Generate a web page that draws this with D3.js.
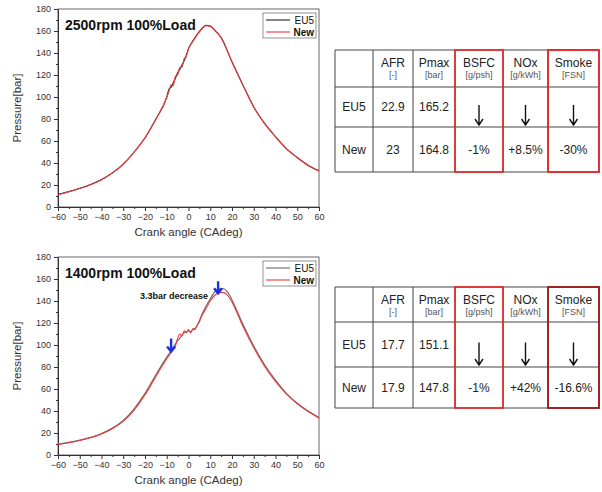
<!DOCTYPE html>
<html>
<head>
<meta charset="utf-8">
<script src="https://cdn.jsdelivr.net/npm/d3@7"></script>
<style>
  body { margin: 0; background: #fff; }
  text { font-family: "Liberation Sans", Arial, sans-serif; }
</style>
</head>
<body>
<script>
// pressure traces, 2500rpm 100% load
let topAngles = [-60,-55,-50,-45,-40,-35,-30,-25,-20,-15,-10,-9,-8,-7,-6,-5,-4,-3,-2,-1,0,2,4,6,8,10,12,15,20,25,30,35,40,45,50,55,60];
let topEU5 = [11.5,14,17,20.5,25,31,39,50,63,80,100,107,109,113,117,122,125,129,133,138,144,151,157,162,165.2,164.5,161,154,132,111,91,76,64,53,45,38,33];
let topNew = [11.3,13.8,16.8,20.3,24.8,30.8,38.8,49.8,62.8,79.8,99.5,105,111,110,119,120,127,127,135,137,143.5,150.5,156.5,161.5,164.8,164.2,160.8,153.8,131.8,110.8,90.8,75.8,63.8,52.8,44.8,37.8,32.8];

// pressure traces, 1400rpm 100% load
let botAngles = [-60,-55,-50,-45,-40,-35,-30,-25,-20,-15,-10,-8,-6,-5,-4,-3,-2,-1,0,1,2,3,4,5,6,8,10,12,14,16,18,20,25,30,35,40,45,50,55,60];
let botEU5 = [10,11.5,13.5,16,19.5,24.5,31.5,42,56,73,89,95,101,104,106,109,111,112,113,112,114,115,118,122,127,135,142,148,151,151.1,148,141,119,99,82,68,56,47,40,34];
let botNew = [9.6,11.2,13.2,15.6,19,23.8,30.6,40.8,54.5,71.5,87.5,93.5,99.5,106,110,108,113,111,114,111,115,114,118,121,126,133,140,145,147.5,147.8,145,139,117,97.5,80.5,67,55.5,46.5,39.5,33.5];

// annotation arrows on the 1400rpm chart: [angle, from pressure, to pressure]
let arrowMarks = [[-8, 106, 94], [13.6, 158, 147]];

let seriesNames = ["EU5", "New"];
let topColors = ["#222222", "#f03a3a"];
let botColors = ["#666666", "#f03a3a"];

// table content
let colNames = ["", "AFR", "Pmax", "BSFC", "NOx", "Smoke"];
let colUnits = ["", "[-]", "[bar]", "[g/psh]", "[g/kWh]", "[FSN]"];
let topRows = [["EU5", "22.9", "165.2", "", "", ""], ["New", "23", "164.8", "-1%", "+8.5%", "-30%"]];
let botRows = [["EU5", "17.7", "151.1", "", "", ""], ["New", "17.9", "147.8", "-1%", "+42%", "-16.6%"]];

let svg = d3.select("body").append("svg")
  .attr("width", 602)
  .attr("height", 492);

let drawChart = function(top, title, angles, eu5, nw, colors, arrows) {
  let left = 58, right = 319, bottom = top + 198;
  let x = d3.scaleLinear().domain([-60, 60]).range([left, right]);
  let y = d3.scaleLinear().domain([0, 180]).range([bottom, top]);
  let g = svg.append("g");

  // frame
  g.append("rect")
   .attr("x", left).attr("y", top)
   .attr("width", right - left).attr("height", bottom - top)
   .attr("fill", "none").attr("stroke", "#666").attr("stroke-width", 1);

  // minor ticks
  g.append("g").attr("transform", `translate(0,${bottom})`)
   .call(d3.axisBottom(x).tickValues(d3.range(-55, 60, 10)).tickSize(2).tickFormat(""))
   .call(a => a.select(".domain").remove());
  g.append("g").attr("transform", `translate(${left},0)`)
   .call(d3.axisLeft(y).tickValues(d3.range(10, 180, 20)).tickSize(2).tickFormat(""))
   .call(a => a.select(".domain").remove());

  // major ticks
  let xa = g.append("g").attr("transform", `translate(0,${bottom})`)
   .call(d3.axisBottom(x).tickValues(d3.range(-60, 61, 10)).tickSize(4).tickPadding(3).tickSizeOuter(0));
  let ya = g.append("g").attr("transform", `translate(${left},0)`)
   .call(d3.axisLeft(y).tickValues(d3.range(0, 181, 20)).tickSize(4).tickPadding(3).tickSizeOuter(0));
  [xa, ya].forEach(a => {
    a.selectAll("text").attr("font-size", 9).attr("fill", "#333")
     .attr("font-family", "Liberation Sans, Arial, sans-serif");
    a.select(".domain").attr("stroke", "#333");
  });
  g.selectAll(".tick line").attr("stroke", "#333");

  g.append("text")
   .attr("x", (left + right) / 2).attr("y", bottom + 29)
   .attr("text-anchor", "middle").attr("font-size", 11.5).attr("fill", "#333")
   .text("Crank angle (CAdeg)");
  g.append("text")
   .attr("transform", `translate(21,${(top + bottom) / 2}) rotate(-90)`)
   .attr("text-anchor", "middle").attr("font-size", 11.5).attr("fill", "#333")
   .text("Pressure[bar]");

  // curves
  let line = d3.line()
    .x((d, i) => x(angles[i]))
    .y(d => y(d))
    .curve(d3.curveMonotoneX);
  [eu5, nw].forEach((vals, k) => {
    g.append("path")
     .datum(vals)
     .attr("fill", "none")
     .attr("stroke", colors[k])
     .attr("stroke-width", 1.1)
     .attr("d", line);
  });

  g.append("text")
   .attr("x", 65).attr("y", top + 21)
   .attr("font-size", 14).attr("font-weight", "bold").attr("fill", "#111")
   .text(title);

  // legend
  let lg = g.append("g").attr("transform", `translate(263,${top + 4})`);
  lg.append("rect").attr("width", 53).attr("height", 25)
    .attr("fill", "#fff").attr("stroke", "#777").attr("stroke-width", 0.8);
  seriesNames.forEach((n, k) => {
    lg.append("line")
      .attr("x1", 3).attr("x2", 27)
      .attr("y1", 7 + k * 12).attr("y2", 7 + k * 12)
      .attr("stroke", colors[k]).attr("stroke-width", 1.1);
    lg.append("text")
      .attr("x", 51).attr("y", 10.5 + k * 12)
      .attr("text-anchor", "end").attr("font-size", 10)
      .attr("font-weight", k == 1 ? "bold" : "normal").attr("fill", "#111")
      .text(n);
  });

  if (arrows) {
    arrows.forEach(a => {
      let ax = x(a[0]), y1 = y(a[1]), y2 = y(a[2]);
      g.append("path")
       .attr("d", `M${ax},${y1}L${ax},${y2}M${ax - 4},${y2 - 5}L${ax},${y2}L${ax + 4},${y2 - 5}`)
       .attr("fill", "none").attr("stroke", "#1a2fe8").attr("stroke-width", 2.4);
    });
    g.append("text")
     .attr("x", 208).attr("y", top + 42)
     .attr("text-anchor", "end").attr("font-size", 9).attr("font-weight", "bold").attr("fill", "#111")
     .text("3.3bar decrease");
  }
};

let drawTable = function(rowY, rows, smokeColor) {
  let colX = [335, 373, 413, 455, 503, 548, 599];
  let g = svg.append("g");
  // grid
  rowY.forEach(yy => {
    g.append("line").attr("x1", colX[0]).attr("x2", colX[6])
     .attr("y1", yy).attr("y2", yy).attr("stroke", "#444").attr("stroke-width", 1);
  });
  colX.forEach(xx => {
    g.append("line").attr("x1", xx).attr("x2", xx)
     .attr("y1", rowY[0]).attr("y2", rowY[3]).attr("stroke", "#444").attr("stroke-width", 1);
  });
  // header
  colNames.forEach((n, c) => {
    let cx = (colX[c] + colX[c + 1]) / 2;
    g.append("text").attr("x", cx).attr("y", rowY[0] + 17)
     .attr("text-anchor", "middle").attr("font-size", 12).attr("fill", "#222").text(n);
    g.append("text").attr("x", cx).attr("y", rowY[0] + 28)
     .attr("text-anchor", "middle").attr("font-size", 9).attr("fill", "#555").text(colUnits[c]);
  });
  rows.forEach((r, ri) => {
    let cy = (rowY[ri + 1] + rowY[ri + 2]) / 2;
    r.forEach((v, c) => {
      g.append("text").attr("x", (colX[c] + colX[c + 1]) / 2).attr("y", cy + 4)
       .attr("text-anchor", "middle").attr("font-size", 12).attr("fill", "#222").text(v);
    });
  });
  // down arrows
  [3, 4, 5].forEach(c => {
    let cx = (colX[c] + colX[c + 1]) / 2;
    let y1 = (rowY[1] + rowY[2]) / 2 - 2, y2 = rowY[2] - 2;
    g.append("path")
     .attr("d", `M${cx},${y1}L${cx},${y2}M${cx - 4},${y2 - 6}L${cx},${y2}L${cx + 4},${y2 - 6}`)
     .attr("fill", "none").attr("stroke", "#111").attr("stroke-width", 1.4);
  });
  // highlight boxes
  g.append("rect").attr("x", colX[3]).attr("y", rowY[0])
   .attr("width", colX[4] - colX[3]).attr("height", rowY[3] - rowY[0])
   .attr("fill", "none").attr("stroke", "#ec2424").attr("stroke-width", 1.6);
  g.append("rect").attr("x", colX[5]).attr("y", rowY[0])
   .attr("width", colX[6] - colX[5]).attr("height", rowY[3] - rowY[0])
   .attr("fill", "none").attr("stroke", smokeColor).attr("stroke-width", 1.8);
};

drawChart(9, "2500rpm 100%Load", topAngles, topEU5, topNew, topColors, null);
drawChart(257, "1400rpm 100%Load", botAngles, botEU5, botNew, botColors, arrowMarks);
drawTable([50, 87, 127, 172], topRows, "#ec2424");
drawTable([287, 322, 367, 408], botRows, "#a01818");
</script>
</body>
</html>
